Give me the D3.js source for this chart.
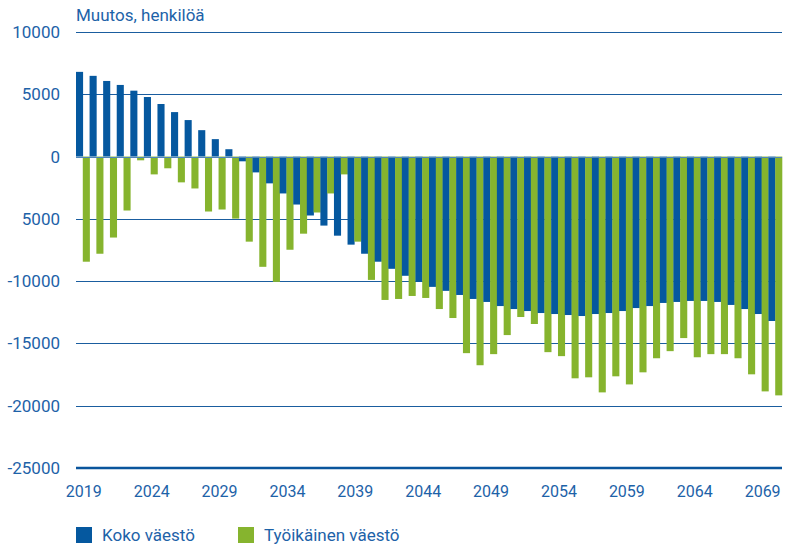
<!DOCTYPE html>
<html>
<head>
<meta charset="utf-8">
<script src="https://cdn.jsdelivr.net/npm/d3@7"></script>
<style>
  body { margin: 0; background: #fff; }
  svg text { font-family: Roboto, "Noto Sans", sans-serif; fill: #1d62a8; }
</style>
</head>
<body>
<svg width="786" height="544"></svg>
<script>
// vuodet 2019-2070
var years = d3.range(2019, 2071);

// Koko väestö, muutos henkilöä
var kokoVaesto = [
  6800, 6480, 6070, 5750, 5290, 4780, 4220, 3570, 2930, 2120,
  1400, 590, -380, -1270, -2150, -2960, -3850, -4730, -5540, -6350,
  -7070, -7800, -8440, -9010, -9570, -10060, -10460, -10780, -11110, -11430,
  -11670, -12000, -12240, -12400, -12560, -12640, -12720, -12800, -12640, -12560,
  -12400, -12160, -12000, -11750, -11670, -11590, -11590, -11670, -11910, -12240,
  -12640, -13200
];

// Työikäinen väestö
var tyoikainen = [
  -8440, -7800, -6500, -4330, -300, -1430, -940, -2070, -2560, -4410,
  -4250, -4980, -6830, -8850, -10060, -7480, -6190, -4490, -2960, -1430,
  -6830, -9900, -11510, -11430, -11190, -11350, -12240, -12960, -15780, -16750,
  -15860, -14330, -12880, -13440, -15700, -16020, -17800, -17720, -18930, -17640,
  -18290, -17320, -16190, -15620, -14570, -16110, -15860, -15860, -16190, -17480,
  -18850, -19170
];

var yTicks = [10000, 5000, 0, -5000, -10000, -15000, -20000, -25000];
var yTickLabels = ['10000', '5000', '0', '5000', '-10000', '-15000', '-20000', '-25000'];
var xTickYears = [2019, 2024, 2029, 2034, 2039, 2044, 2049, 2054, 2059, 2064, 2069];
var seriesNames = ['Koko väestö', 'Työikäinen väestö'];
var colors = ['#05589f', '#86b42e'];

var svg = d3.select('svg');

var x = d3.scaleBand().domain(years).range([76, 782]).padding(0);
var xs = d3.scaleBand().domain([0, 1]).range([0, x.bandwidth()]);
var y = d3.scaleLinear().domain([-25000, 10000]).range([468, 32]);

// gridlines
svg.append('g')
  .selectAll('line')
  .data(yTicks.slice(0, -1))
  .enter()
  .append('line')
  .attr('x1', 76).attr('x2', 782)
  .attr('y1', function (d) { return Math.round(y(d)) + 0.5; })
  .attr('y2', function (d) { return Math.round(y(d)) + 0.5; })
  .attr('stroke', '#1a5d9f')
  .attr('stroke-width', 1.2);

// y labels
svg.append('g')
  .selectAll('text')
  .data(yTicks)
  .enter()
  .append('text')
  .attr('x', 60)
  .attr('y', function (d) { return y(d); })
  .attr('dy', '0.35em')
  .attr('text-anchor', 'end')
  .style('font-size', '17px')
  .text(function (d, i) { return yTickLabels[i]; });

// bars
var data = years.map(function (yr, i) {
  return {year: yr, vals: [kokoVaesto[i], tyoikainen[i]]};
});

var groups = svg.append('g')
  .selectAll('g')
  .data(data)
  .enter()
  .append('g')
  .attr('transform', function (d) { return 'translate(' + x(d.year) + ',0)'; });

groups.selectAll('rect')
  .data(function (d) { return d.vals.map(function (v, k) { return {k: k, v: v}; }); })
  .enter()
  .append('rect')
  .attr('x', function (d) { return xs(d.k); })
  .attr('width', xs.bandwidth() + 0.3)
  .attr('y', function (d) { return Math.min(y(d.v), y(0)); })
  .attr('height', function (d) { return Math.abs(y(d.v) - y(0)); })
  .attr('fill', function (d) { return colors[d.k]; });

// zero line on top, thin
svg.append('line')
  .attr('x1', 76).attr('x2', 782)
  .attr('y1', Math.round(y(0)) + 0.5).attr('y2', Math.round(y(0)) + 0.5)
  .attr('stroke', '#4f86b8')
  .attr('stroke-width', 1);

// x axis line
svg.append('line')
  .attr('x1', 76).attr('x2', 782)
  .attr('y1', y(-25000)).attr('y2', y(-25000))
  .attr('stroke', '#0a559c')
  .attr('stroke-width', 2.5);

// x labels
svg.append('g')
  .selectAll('text')
  .data(xTickYears)
  .enter()
  .append('text')
  .attr('x', function (d) { return x(d) + x.bandwidth() / 2 + 1; })
  .attr('y', 497)
  .attr('text-anchor', 'middle')
  .style('font-size', '16px')
  .text(function (d) { return d; });

// title
svg.append('text')
  .attr('x', 76)
  .attr('y', 21)
  .style('font-size', '17px')
  .text('Muutos, henkilöä');

// legend
var legendX = [76, 238];
var legend = svg.append('g')
  .selectAll('g')
  .data(seriesNames)
  .enter()
  .append('g')
  .attr('transform', function (d, i) { return 'translate(' + legendX[i] + ',527)'; });

legend.append('rect')
  .attr('width', 16).attr('height', 16)
  .attr('fill', function (d, i) { return colors[i]; });

legend.append('text')
  .attr('x', 26)
  .attr('y', 14)
  .style('font-size', '17px')
  .text(function (d) { return d; });
</script>
</body>
</html>
